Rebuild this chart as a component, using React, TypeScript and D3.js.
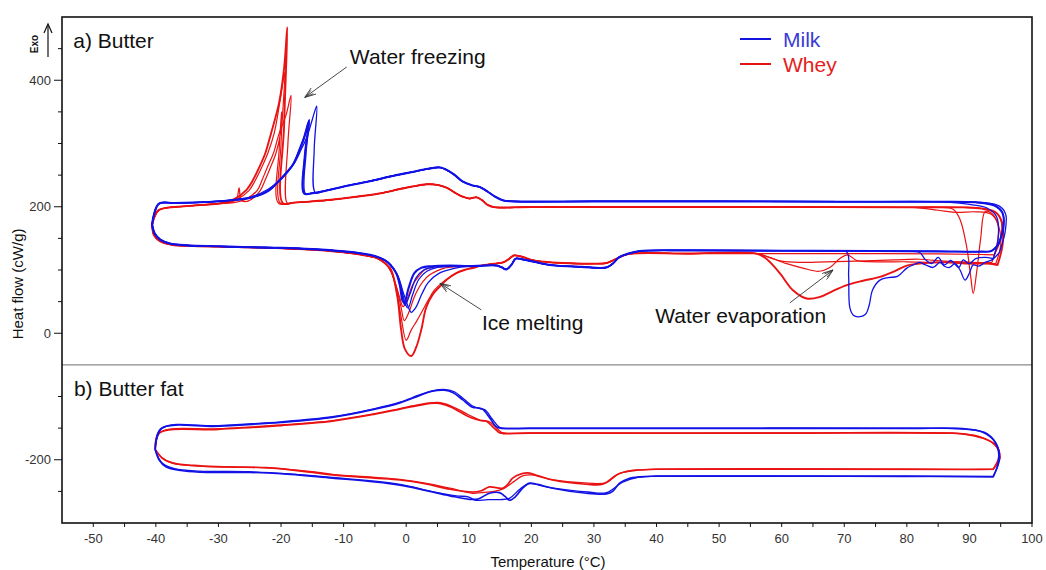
import React from "react";
import * as d3 from "d3";

type P = [number, number];

// ---------- axes ----------
const xTickLabels = [-50, -40, -30, -20, -10, 0, 10, 20, 30, 40, 50, 60, 70, 80, 90, 100];
const xMinorTicks = [-45, -35, -25, -15, -5, 5, 15, 25, 35, 45, 55, 65, 75, 85, 95];
const yTickLabels = [400, 200, 0, -200];
const yMinorTicks = [-250, -150, -100, 50, 100, 150, 250, 300, 350, 450];

// ---------- a) Butter : Milk (blue) ----------
const milkCoolBase: P[] = [[85, 208], [70, 208], [50, 208.5], [30, 208.5], [17, 208.5], [15.5, 210], [14.2, 216], [13, 224], [11.8, 231], [10.5, 234], [9, 240], [7.5, 252], [5.5, 262], [3.5, 260], [1, 255], [-2, 249], [-6, 240], [-10, 232], [-13, 225]];
const milkCoolLeft: P[] = [[-28.3, 210], [-33, 207], [-37, 206], [-39.5, 205], [-40.3, 188], [-40.6, 172]];
const milkCornerA: P[] = [[94.6, 140], [95.4, 165], [95.3, 190], [94, 202], [91, 207]];
const milkCornerB: P[] = [[94.8, 128], [95.7, 160], [95.8, 188], [94.8, 201], [92, 206.5]];
const milkCornerC: P[] = [[93.8, 118], [94.6, 150], [94.3, 185], [92.8, 198], [90.5, 203], [88, 206]];
const milkSpikeA: P[] = [[-14.5, 222], [-14.7, 290], [-14.3, 359], [-15, 338], [-15.8, 312], [-16.8, 290], [-17.8, 270], [-19, 254], [-20.5, 239], [-22, 228], [-24.6, 216]];
const milkSpikeB: P[] = [[-15, 221.5], [-16.3, 221], [-16.2, 280], [-15.5, 337], [-16.3, 310], [-17.1, 289], [-18, 268], [-19.2, 253], [-20.5, 239], [-21.9, 226], [-24.6, 215]];
const milkSpikeC: P[] = [[-15, 221.5], [-16.1, 221], [-16, 285], [-15.6, 330], [-16.4, 305], [-17.2, 286], [-18.2, 266], [-19.4, 251], [-20.8, 237], [-22.2, 225], [-24.8, 214]];

const milkHeatLeft: P[] = [[-40.6, 172], [-40.2, 158], [-39.3, 148], [-37.8, 142], [-35, 139], [-30, 137.5], [-25, 136], [-20, 135], [-15, 133], [-10, 129.5], [-7, 126], [-5, 122], [-3.5, 116], [-2.5, 108]];
const milkMelt1: P[] = [[-1.6, 95], [-1, 75], [-0.6, 52], [-0.3, 48], [0.4, 72], [1.3, 95], [2.3, 103], [4, 106], [7, 107]];
const milkMelt2: P[] = [[-1.4, 92], [-0.7, 68], [-0.1, 45], [0.3, 40], [1, 60], [2, 85], [3.3, 98], [5, 104], [8, 106]];
const milkMelt3: P[] = [[-1.3, 90], [-0.4, 62], [0.4, 40], [0.8, 33], [1.5, 40], [2.5, 62], [3.5, 80], [5.3, 95], [7.5, 102]];
const milkMelt4: P[] = [[-1.5, 93], [-0.8, 68], [-0.2, 44], [0.6, 62], [1.6, 88], [2.8, 100], [4.5, 105], [7, 106]];
const milkFatMelt: P[] = [[10, 106], [12.5, 107], [14.5, 107], [15.3, 104], [16, 101], [16.8, 108], [17.5, 118], [18.5, 117], [20, 114], [23, 108], [28, 105], [32, 104], [33, 110], [34, 120], [35.5, 126], [37.3, 130], [45, 131], [60, 130.5]];
const milkHeatRight: P[] = [[75, 130], [85, 129.5], [92, 129], [93.5, 130], [94.6, 140]];
const milkEvap: P[] = [[68, 129.5], [70.4, 128.5], [70.7, 90], [70.9, 40], [71.5, 28], [72.3, 26], [73.4, 30], [74, 45], [74.5, 68], [75.7, 84], [77, 88], [78.5, 90], [80, 103], [81, 108], [82, 112], [83, 108], [84.2, 104], [85.3, 112], [86, 106], [86.8, 104], [87.7, 110], [88.5, 100], [89.3, 84], [90, 95], [90.6, 108], [91.5, 106], [92.5, 112], [93.6, 116], [94.8, 128]];
const milkZigzag: P[] = [[80, 129.5], [82, 128], [83, 116], [84, 110], [85, 120], [86, 108], [87, 115], [88.3, 104], [89, 116], [90, 110], [91, 118], [92.5, 120], [93.8, 118]];

// ---------- a) Butter : Whey (red) ----------
const wheyCoolBase: P[] = [[80, 199], [60, 199.5], [40, 199.5], [20, 199.5], [14, 199.5], [13, 203], [12.2, 210], [11.2, 215], [10.1, 213], [9, 216], [8, 221], [6.5, 230], [5, 234.5], [3.2, 235.5], [1, 232], [-1, 228], [-4.3, 221], [-8.6, 215], [-12, 211], [-15, 208.5], [-18, 206.5]];
const wheyCoolLeft: P[] = [[-30, 205], [-35, 201], [-39.5, 195], [-40.3, 182], [-40.6, 170]];
const wheyCorner1: P[] = [[94.5, 108], [95.3, 140], [95.2, 175], [94.3, 190], [92, 197], [89, 199]];
const wheyCorner2: P[] = [[94.2, 110], [95, 140], [94.6, 172], [93.5, 190], [92.5, 192], [91.8, 150], [91.2, 100], [90.6, 63], [90.2, 90], [89.5, 140], [88.5, 180], [87.4, 196], [85, 199]];
const wheyCorner3: P[] = [[93.6, 112], [94.4, 140], [94.6, 170], [93.5, 188], [91, 192], [88, 191], [86, 193], [84, 196], [81, 199]];
const wheyCorner4: P[] = [[94, 124], [95, 150], [95, 180], [94, 193], [91.5, 198], [88, 199]];
const wheySpike1: P[] = [[-19.7, 205.5], [-19.5, 330], [-19, 484], [-19.5, 420], [-20.3, 365], [-21.6, 316], [-22.5, 285], [-23.5, 262], [-24.5, 242], [-25.6, 226], [-27.5, 212]];
const wheySpike2: P[] = [[-20.1, 205.5], [-20, 300], [-19.4, 413], [-20.2, 365], [-21.1, 316], [-22.1, 285], [-23.1, 262], [-24.1, 242], [-25.1, 226], [-27, 212], [-29, 206]];
const wheySpike3: P[] = [[-19, 205.5], [-18.9, 300], [-18.4, 376], [-19.2, 345], [-20.3, 316], [-21.2, 285], [-22.2, 262], [-23, 243], [-23.8, 226], [-25.8, 211], [-28, 206]];
const wheySpike4: P[] = [[-20.4, 205.5], [-20.3, 290], [-19.9, 350], [-20.1, 316], [-20.8, 285], [-21.7, 262], [-22.5, 243], [-23.3, 226], [-24.7, 212], [-25.8, 208], [-26.4, 211], [-26.7, 230], [-27.1, 212], [-28, 207]];

const wheyHeatLeft: P[] = [[-40.6, 170], [-40.3, 155], [-39.4, 146], [-37.5, 140], [-34, 138], [-28, 136.5], [-22, 135], [-15, 132], [-10, 128], [-6.5, 123], [-4.5, 118], [-3.3, 110]];
const wheyMelt1: P[] = [[-2.4, 100], [-1.4, 57], [-0.8, 5], [-0.2, -25], [0.8, -36], [1.6, -22], [2.4, 5], [3.2, 41], [4.3, 62], [5.3, 73], [6.5, 85], [8, 95], [9.3, 100], [10.6, 103]];
const wheyMelt2: P[] = [[-2.4, 98], [-1.5, 65], [-0.8, 25], [0, -11], [0.8, 5], [1.6, 18], [2.4, 32], [3.5, 52], [4.5, 68], [6, 82], [6.9, 88], [8, 95], [9.3, 100], [10.6, 104]];
const wheyMelt3: P[] = [[-2.4, 97], [-1.5, 70], [-0.8, 40], [-0.3, 20], [0.5, 35], [1.2, 55], [1.8, 68], [2.7, 82], [3.7, 92], [5, 99], [6.1, 103], [8, 105], [10.6, 106]];
const wheyMelt4: P[] = [[-2.4, 97], [-1.6, 75], [-1, 55], [-0.5, 42], [0.2, 55], [1, 76], [2, 90], [2.9, 100], [4.5, 105], [7, 106], [10.6, 106]];
const wheyFatMelt: P[] = [[12, 107], [14, 110], [15.5, 112], [16.5, 118], [17.2, 123], [18.5, 121], [20, 116], [22, 113], [25, 111], [30, 110], [32, 111], [33, 115], [34.5, 122], [36, 126], [45, 126], [56, 126]];
const wheyEvap1: P[] = [[57.5, 118], [59.7, 95], [61.8, 68], [64, 55], [66, 57], [68, 66], [70.4, 76], [73, 83], [75.7, 89], [78, 98], [80, 107], [82, 110], [86, 112], [90, 110], [93, 110], [94.5, 108]];
const wheyEvap2: P[] = [[58, 120], [60.8, 110], [63.4, 103], [66, 98], [67.7, 104], [69.3, 118], [70.5, 124], [72, 115], [75, 113], [80, 113], [85, 112], [88, 113], [91, 111], [94.2, 110]];
const wheyEvap3: P[] = [[58, 120], [60, 114], [63, 112], [67, 113], [72, 114], [78, 116], [82, 117], [86, 114], [90, 112], [93.6, 112]];
const wheyEvap4: P[] = [[70, 126], [85, 125.5], [92, 124.5], [94, 124]];

// ---------- b) Butter fat ----------
const milkFatCool1: P[] = [[93.8, -227], [94.6, -205], [94.5, -180], [92.8, -159], [89.6, -151.5], [80, -150.5], [40, -150.5], [20, -150.5], [15, -150], [14.4, -148], [13.3, -133], [12.2, -120], [11.5, -118], [10.6, -117], [9, -105], [7.5, -94], [6.1, -90], [4, -92], [2, -99], [-1, -110], [-5, -120], [-11.8, -133], [-20, -141], [-30, -147], [-39.2, -151], [-40.1, -184]];
const milkFatCool2: P[] = [[93.8, -226], [94.8, -200], [94.3, -175], [92, -156], [88.5, -151], [80, -150], [40, -150], [20, -150], [15.2, -149.5], [14.7, -147], [13.7, -135], [12.6, -121], [11.8, -119], [10.8, -116], [9.2, -104], [7.7, -92.5], [6.3, -89], [4.2, -91], [2, -98], [-1, -109], [-5, -119], [-11.8, -132], [-20, -140], [-30, -146], [-39, -150], [-40.1, -184]];
const milkFatHeat1: P[] = [[-40.1, -184], [-39.5, -200], [-38.4, -211], [-36, -217], [-33, -219.5], [-25, -220], [-20, -222], [-11.8, -229], [-5, -235], [-1, -240], [2, -246], [4.2, -251], [7, -257], [10.1, -262.5], [11.5, -262], [13.3, -253], [14.9, -252], [15.8, -258], [16.5, -264], [17.5, -258], [18.5, -246], [19.7, -237], [21, -239], [23.4, -245], [28.8, -253], [32, -254], [33, -250], [34.1, -237], [35.5, -230], [37.3, -227], [40, -226], [60, -226], [80, -226], [93.8, -227]];
const milkFatHeat2: P[] = [[-40.1, -184], [-39, -205], [-37, -214], [-33, -218], [-25, -219], [-11.8, -228], [-1, -239], [4, -250], [8, -257], [10, -259], [11, -264], [13, -263], [15, -263], [16.5, -261], [18, -248], [19.5, -238], [23, -244], [29, -251], [32, -252], [34.5, -236], [37, -228], [40, -226], [80, -226.5], [93.8, -226]];

const wheyFatCool1: P[] = [[93.8, -215], [94.6, -200], [94.8, -189], [94, -175], [92.2, -166], [89, -159], [87.4, -158], [60, -158], [20, -158], [15, -157.5], [14.4, -153], [13.3, -143], [12.8, -139], [11.7, -137.5], [10.5, -134], [9.6, -130], [7, -116], [4.8, -110.5], [2, -114], [-1, -120], [-5, -128], [-11.8, -139], [-20, -146], [-30, -152], [-39.5, -158], [-40.1, -184]];
const wheyFatCool2: P[] = [[93.8, -215], [94.9, -198], [94.6, -184], [93.5, -172], [91.5, -163], [88, -158.5], [60, -157.5], [20, -157.5], [15.3, -157], [14.7, -152], [13.6, -142], [13, -139], [12, -138], [10.8, -133], [9.8, -128], [7.2, -115], [5, -109.5], [2, -113], [-1, -119], [-5, -127], [-11.8, -138], [-20, -145], [-30, -151], [-39.3, -157], [-40.1, -184]];
const wheyFatHeat1: P[] = [[-40.1, -184], [-39, -197], [-37.4, -205], [-34, -209], [-30.4, -211], [-22.4, -212.6], [-15, -220], [-11.8, -224], [-5, -229], [-1, -232], [3, -238], [7, -246.6], [10.6, -251], [12, -249], [13.3, -243], [15.4, -245], [16.3, -238], [17, -229], [18.5, -222], [19.7, -221], [21, -225], [23.4, -232], [28.8, -238.7], [31.4, -238.7], [33.6, -224], [35, -219], [36.8, -216.6], [40, -215], [90, -215], [93.8, -215]];
const wheyFatHeat2: P[] = [[-40.1, -184], [-38.8, -199], [-37, -206], [-33, -210], [-28, -211.5], [-22, -213], [-15, -219], [-11.8, -223], [-5, -228], [-1, -231], [3, -237], [7, -245], [10.6, -253], [12, -252], [14, -250], [15.5, -246], [17, -236], [18.5, -226], [20, -224], [23, -231], [29, -237], [32, -236], [34, -222], [37, -216], [40, -215], [90, -215.5], [93.8, -215]];

// ---------- assembled traces ----------
const milkButterTraces: P[][] = [
  [...milkHeatLeft, ...milkMelt1, ...milkFatMelt, ...milkHeatRight, ...milkCornerA, ...milkCoolBase, ...milkSpikeB, ...milkCoolLeft],
  [...milkHeatLeft, ...milkMelt2, ...milkFatMelt, ...milkEvap, ...milkCornerB, ...milkCoolBase, ...milkSpikeA, ...milkCoolLeft],
  [...milkHeatLeft, ...milkMelt3, ...milkFatMelt, ...milkZigzag, ...milkCornerC, ...milkCoolBase, ...milkSpikeC, ...milkCoolLeft],
  [...milkHeatLeft, ...milkMelt4, ...milkFatMelt, ...milkHeatRight, ...milkCornerA, ...milkCoolBase, ...milkSpikeB, ...milkCoolLeft],
];
const wheyButterTraces: P[][] = [
  [...wheyHeatLeft, ...wheyMelt1, ...wheyFatMelt, ...wheyEvap1, ...wheyCorner1, ...wheyCoolBase, ...wheySpike1, ...wheyCoolLeft],
  [...wheyHeatLeft, ...wheyMelt2, ...wheyFatMelt, ...wheyEvap2, ...wheyCorner2, ...wheyCoolBase, ...wheySpike2, ...wheyCoolLeft],
  [...wheyHeatLeft, ...wheyMelt3, ...wheyFatMelt, ...wheyEvap3, ...wheyCorner3, ...wheyCoolBase, ...wheySpike3, ...wheyCoolLeft],
  [...wheyHeatLeft, ...wheyMelt4, ...wheyFatMelt, ...wheyEvap4, ...wheyCorner4, ...wheyCoolBase, ...wheySpike4, ...wheyCoolLeft],
];
const milkFatTraces: P[][] = [
  [...milkFatHeat1, ...milkFatCool1],
  [...milkFatHeat2, ...milkFatCool2],
];
const wheyFatTraces: P[][] = [
  [...wheyFatHeat1, ...wheyFatCool1],
  [...wheyFatHeat2, ...wheyFatCool2],
];

// ---------- annotations (data coordinates) ----------
const annotations = [
  { text: "Water freezing", at: [-9, 426] as P, from: [-9.5, 421] as P, to: [-16.2, 373] as P },
  { text: "Ice melting", at: [12.1, 5] as P, from: [12, 37] as P, to: [5.4, 79] as P },
  { text: "Water evaporation", at: [39.8, 16] as P, from: [61.3, 48] as P, to: [68.2, 100] as P },
];
const panelLabels = [
  { text: "a) Butter", at: [-53.2, 451] as P },
  { text: "b) Butter fat", at: [-53.1, -99] as P },
];
const legendItems = [
  { name: "Milk", color: "#1414e0", text: "#3b3bd6" },
  { name: "Whey", color: "#e41414", text: "#e42020" },
];

const BLUE = "#1212e6";
const RED = "#ea1212";
const FONT = "'Liberation Sans', Arial, Helvetica, sans-serif";

export default function App() {
  const W = 1046;
  const H = 570;
  const left = 62, right = 1032, top = 17, bottom = 523;
  const x = d3.scaleLinear().domain([-55, 100]).range([left, right]);
  const y = d3.scaleLinear().domain([-300, 500]).range([bottom, top]);
  const line = d3
    .line<P>()
    .x((d) => x(d[0]))
    .y((d) => y(d[1]))
    .curve(d3.curveCatmullRom.alpha(0.5));

  const drawSet = (traces: P[][], color: string, key: string, w0: number, w: number) =>
    traces.map((t, i) => (
      <path key={key + i} d={line(t) || ""} fill="none" stroke={color} strokeWidth={i === 0 ? w0 : w} strokeLinejoin="round" />
    ));

  return (
    <svg width={W} height={H} style={{ position: "absolute", left: 0, top: 0, background: "#fff" }} fontFamily={FONT}>
      <defs>
        <marker id="arr" viewBox="0 0 12 8" refX="11" refY="4" markerWidth="12" markerHeight="8" orient="auto" markerUnits="userSpaceOnUse">
          <path d="M0,0 L11,4 L0,8 M2,2 L11,4 L2,6" fill="none" stroke="#333" strokeWidth="0.8" />
        </marker>
        <clipPath id="plotclip">
          <rect x={left} y={top} width={right - left} height={bottom - top} />
        </clipPath>
      </defs>
      <rect x={0} y={0} width={W} height={H} fill="#fff" />

      {/* divider between panels */}
      <line x1={left} x2={right} y1={y(-50)} y2={y(-50)} stroke="#8a8a8a" strokeWidth={1.4} />

      <g clipPath="url(#plotclip)">
        {drawSet(wheyButterTraces, RED, "wb", 1.9, 1.2)}
        {drawSet(milkButterTraces, BLUE, "mb", 2.1, 1.3)}
        {drawSet(wheyFatTraces, RED, "wf", 1.7, 1.3)}
        {drawSet(milkFatTraces, BLUE, "mf", 1.7, 1.3)}
      </g>

      {/* frame */}
      <rect x={left} y={top} width={right - left} height={bottom - top} fill="none" stroke="#111" strokeWidth={1.6} />

      {/* y ticks */}
      {yMinorTicks.map((v) => (
        <line key={"ym" + v} x1={left - 4} x2={left} y1={y(v)} y2={y(v)} stroke="#111" strokeWidth={1} />
      ))}
      {yTickLabels.map((v) => (
        <g key={"yl" + v}>
          <line x1={left - 8} x2={left} y1={y(v)} y2={y(v)} stroke="#111" strokeWidth={1} />
          <text x={left - 11} y={y(v)} dy="0.36em" textAnchor="end" fontSize={13} fill="#333">{v}</text>
        </g>
      ))}

      {/* x ticks */}
      {xMinorTicks.map((v) => (
        <line key={"xm" + v} x1={x(v)} x2={x(v)} y1={bottom} y2={bottom + 4} stroke="#111" strokeWidth={1} />
      ))}
      {xTickLabels.map((v) => (
        <g key={"xl" + v}>
          <line x1={x(v)} x2={x(v)} y1={bottom} y2={bottom + 4} stroke="#111" strokeWidth={1} />
          <text x={x(v)} y={bottom + 20} textAnchor="middle" fontSize={13} fill="#333">{v}</text>
        </g>
      ))}

      {/* axis titles */}
      <text x={(left + right) / 2 + 1} y={567} textAnchor="middle" fontSize={15} fill="#111">Temperature (°C)</text>
      <text transform={`translate(23,${y(78)}) rotate(-90)`} textAnchor="middle" fontSize={15} fill="#111">Heat flow (cW/g)</text>
      <text transform="translate(38,44) rotate(-90)" textAnchor="middle" fontSize={10} fontWeight="bold" fill="#111">Exo</text>
      <line x1={48} x2={48} y1={57} y2={26} stroke="#111" strokeWidth={1.2} />
      <path d="M44,33 L48,24 L52,33" fill="none" stroke="#111" strokeWidth={1.2} />

      {/* panel labels */}
      {panelLabels.map((p) => (
        <text key={p.text} x={x(p.at[0])} y={y(p.at[1])} fontSize={21} fill="#111">{p.text}</text>
      ))}

      {/* annotations */}
      {annotations.map((a) => (
        <g key={a.text}>
          <line x1={x(a.from[0])} y1={y(a.from[1])} x2={x(a.to[0])} y2={y(a.to[1])} stroke="#333" strokeWidth={0.9} markerEnd="url(#arr)" />
          <text x={x(a.at[0])} y={y(a.at[1])} fontSize={21} fill="#111">{a.text}</text>
        </g>
      ))}

      {/* legend */}
      {legendItems.map((it, i) => (
        <g key={it.name} transform={`translate(740,${39 + i * 25})`}>
          <line x1={0} x2={31} y1={0} y2={0} stroke={it.color} strokeWidth={2} />
          <text x={43} y={0} dy="0.36em" fontSize={21} fill={it.text}>{it.name}</text>
        </g>
      ))}
    </svg>
  );
}
